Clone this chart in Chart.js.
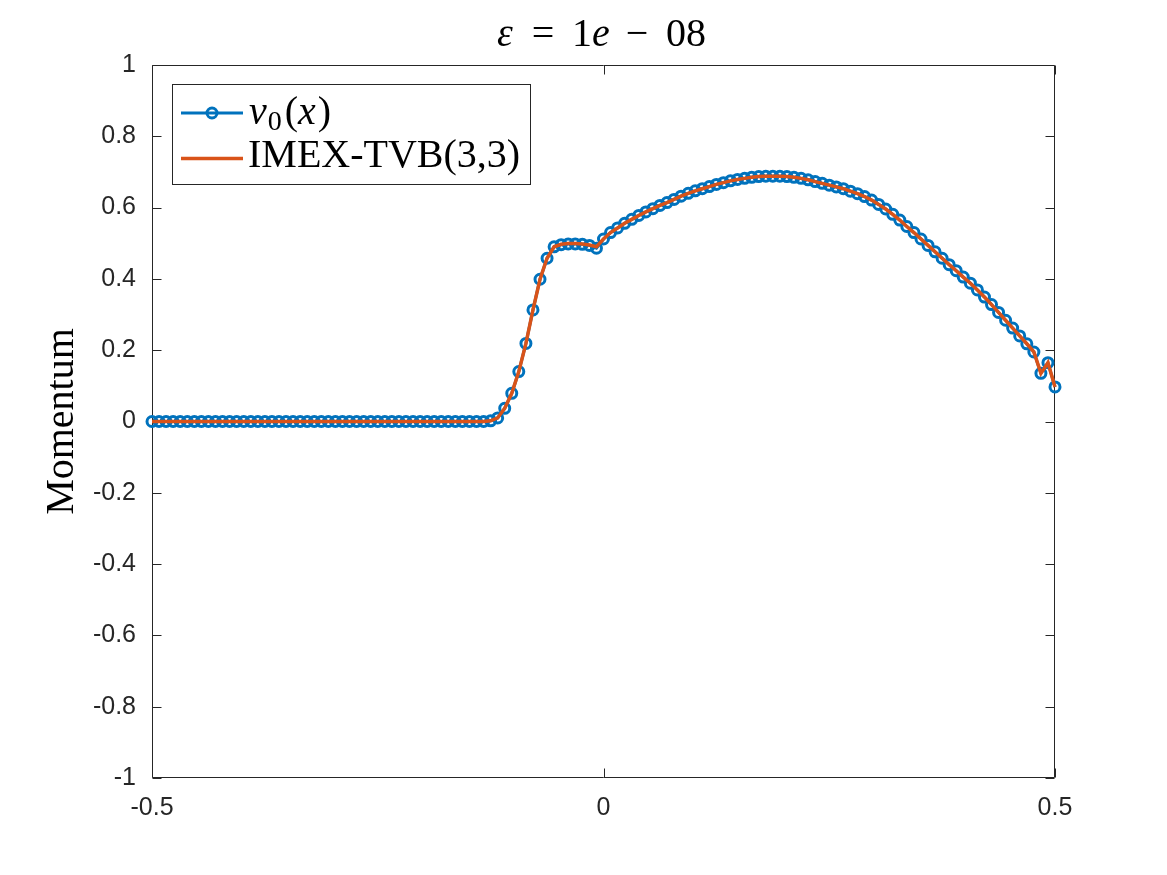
<!DOCTYPE html>
<html><head><meta charset="utf-8">
<script src="https://cdn.jsdelivr.net/npm/chart.js@4.4.0/dist/chart.umd.min.js"></script>
<style>html,body{margin:0;padding:0;background:#fff;}canvas{display:block;}</style>
</head><body>
<canvas id="c" width="1167" height="875"></canvas>
<script>
const xValues = [
-0.5,-0.4922,-0.4844,-0.4766,-0.4688,-0.4609,-0.4531,-0.4453,-0.4375,-0.4297,
-0.4219,-0.4141,-0.4063,-0.3984,-0.3906,-0.3828,-0.375,-0.3672,-0.3594,-0.3516,
-0.3438,-0.3359,-0.3281,-0.3203,-0.3125,-0.3047,-0.2969,-0.2891,-0.2813,-0.2734,
-0.2656,-0.2578,-0.25,-0.2422,-0.2344,-0.2266,-0.2188,-0.2109,-0.2031,-0.1953,
-0.1875,-0.1797,-0.1719,-0.1641,-0.1563,-0.1484,-0.1406,-0.1328,-0.125,-0.1172,
-0.1094,-0.1016,-0.0938,-0.0859,-0.0781,-0.0703,-0.0625,-0.0547,-0.0469,-0.0391,
-0.0313,-0.0234,-0.0156,-0.0078,0,0.0078,0.0156,0.0234,0.0313,0.0391,
0.0469,0.0547,0.0625,0.0703,0.0781,0.0859,0.0938,0.1016,0.1094,0.1172,
0.125,0.1328,0.1406,0.1484,0.1563,0.1641,0.1719,0.1797,0.1875,0.1953,
0.2031,0.2109,0.2188,0.2266,0.2344,0.2422,0.25,0.2578,0.2656,0.2734,
0.2813,0.2891,0.2969,0.3047,0.3125,0.3203,0.3281,0.3359,0.3438,0.3516,
0.3594,0.3672,0.375,0.3828,0.3906,0.3984,0.4063,0.4141,0.4219,0.4297,
0.4375,0.4453,0.4531,0.4609,0.4688,0.4766,0.4844,0.4922,0.5];

const v0Values = [
0,0,0,0,0,0,0,0,0,0,
0,0,0,0,0,0,0,0,0,0,
0,0,0,0,0,0,0,0,0,0,
0,0,0,0,0,0,0,0,0,0,
0,0,0,0,0,0,0,0,0.002,0.010,
0.037,0.079,0.140,0.219,0.313,0.399,0.458,0.490,0.496,0.498,
0.498,0.497,0.494,0.486,0.512,0.530,0.543,0.556,0.567,0.578,
0.588,0.597,0.606,0.614,0.623,0.632,0.640,0.647,0.653,0.659,
0.665,0.670,0.675,0.679,0.682,0.685,0.687,0.688,0.688,0.688,
0.687,0.685,0.682,0.678,0.673,0.668,0.663,0.658,0.653,0.646,
0.639,0.631,0.621,0.609,0.596,0.581,0.565,0.547,0.530,0.512,
0.494,0.476,0.458,0.440,0.423,0.405,0.388,0.369,0.349,0.328,
0.306,0.284,0.262,0.240,0.218,0.195,0.135,0.165,0.097];

const imexValues = [
0,0,0,0,0,0,0,0,0,0,
0,0,0,0,0,0,0,0,0,0,
0,0,0,0,0,0,0,0,0,0,
0,0,0,0,0,0,0,0,0,0,
0,0,0,0,0,0,0,0,0.002,0.010,
0.037,0.079,0.140,0.219,0.313,0.399,0.458,0.490,0.497,0.499,
0.499,0.498,0.495,0.490,0.512,0.530,0.543,0.556,0.567,0.578,
0.588,0.597,0.606,0.614,0.623,0.632,0.640,0.647,0.653,0.659,
0.665,0.670,0.675,0.679,0.682,0.685,0.687,0.688,0.688,0.688,
0.687,0.685,0.682,0.678,0.673,0.668,0.663,0.658,0.653,0.646,
0.639,0.631,0.621,0.609,0.596,0.581,0.565,0.547,0.530,0.512,
0.494,0.476,0.458,0.440,0.423,0.405,0.388,0.369,0.349,0.328,
0.306,0.284,0.262,0.240,0.218,0.195,0.135,0.165,0.097];

const xTickValues = [-0.5, 0, 0.5];
const yTickValues = [-1, -0.8, -0.6, -0.4, -0.2, 0, 0.2, 0.4, 0.6, 0.8, 1];
const seriesNames = ['v0(x)', 'IMEX-TVB(3,3)'];
const yAxisLabel = 'Momentum';

const BLUE = '#0072BD', ORANGE = '#D95319', AX = '#262626';
const SERIF = '"Liberation Serif", "DejaVu Serif", serif';
const SANS = '"Liberation Sans", Arial, sans-serif';

function toPoints(xs, ys) { return xs.map((x, i) => ({x: x, y: ys[i]})); }

function drawRuns(ctx, runs, x, y, align) {
  let total = 0;
  runs.forEach(r => {
    if (r.gap !== undefined) { r.w = r.gap; }
    else { ctx.font = r.font; r.w = ctx.measureText(r.t).width; }
    total += r.w;
  });
  let cx = align === 'center' ? x - total / 2 : x;
  ctx.textBaseline = 'alphabetic';
  ctx.textAlign = 'left';
  runs.forEach(r => {
    if (r.t !== undefined) { ctx.font = r.font; ctx.fillText(r.t, cx, y + (r.dy || 0)); }
    cx += r.w;
  });
}

const framePlugin = {
  id: 'frame',
  beforeDatasetsDraw(chart) {
    const ctx = chart.ctx, a = chart.chartArea;
    const xs = chart.scales.x, ys = chart.scales.y;
    ctx.save();
    ctx.strokeStyle = AX; ctx.lineWidth = 1;
    const L = Math.round(a.left) + 0.5, R = Math.round(a.right) - 0.5;
    const T = Math.round(a.top) + 0.5, B = Math.round(a.bottom) - 0.5;
    ctx.beginPath();
    ctx.rect(L, T, R - L, B - T);
    yTickValues.forEach(v => {
      const p = Math.round(ys.getPixelForValue(v)) + 0.5;
      ctx.moveTo(L, p); ctx.lineTo(L + 9, p);
      ctx.moveTo(R, p); ctx.lineTo(R - 9, p);
    });
    xTickValues.forEach(v => {
      const p = Math.round(xs.getPixelForValue(v)) + 0.5;
      ctx.moveTo(p, B); ctx.lineTo(p, B - 9);
      ctx.moveTo(p, T); ctx.lineTo(p, T + 9);
    });
    ctx.stroke();
    ctx.restore();
  },
  afterDraw(chart) {
    const ctx = chart.ctx, a = chart.chartArea;
    ctx.save();
    ctx.fillStyle = '#000';
    // title with LaTeX-like math spacing
    const fs = 40;
    const up = fs + 'px ' + SERIF, it = 'italic ' + fs + 'px ' + SERIF;
    ctx.textBaseline = 'alphabetic';
    ctx.textAlign = 'center';
    ctx.font = it; ctx.fillText('ε', 505, 46);
    ctx.font = up; ctx.fillText('=', 543, 46);
    drawRuns(ctx, [{t: '1', font: up}, {t: 'e', font: it}], 572, 46, 'left');
    ctx.textAlign = 'center';
    ctx.font = up; ctx.fillText('−', 637, 46);
    ctx.fillText('08', 686, 46);
    // y label
    ctx.save();
    ctx.translate(73, (a.top + a.bottom) / 2);
    ctx.rotate(-Math.PI / 2);
    ctx.font = '40px ' + SERIF;
    ctx.textAlign = 'center';
    ctx.textBaseline = 'alphabetic';
    ctx.fillText(yAxisLabel, 0, 0);
    ctx.restore();
    // legend
    const bx = 172.5, by = 84.5, bw = 358, bh = 100;
    ctx.fillStyle = '#fff';
    ctx.fillRect(bx, by, bw, bh);
    ctx.strokeStyle = AX; ctx.lineWidth = 1;
    ctx.strokeRect(bx, by, bw, bh);
    const r1 = 113, r2 = 158.5;
    ctx.lineCap = 'butt';
    ctx.strokeStyle = BLUE; ctx.lineWidth = 3;
    ctx.beginPath(); ctx.moveTo(181, r1); ctx.lineTo(243, r1); ctx.stroke();
    ctx.lineWidth = 3;
    ctx.beginPath(); ctx.arc(212, r1, 5, 0, Math.PI * 2); ctx.stroke();
    ctx.strokeStyle = ORANGE; ctx.lineWidth = 3.5;
    ctx.beginPath(); ctx.moveTo(181, r2); ctx.lineTo(243, r2); ctx.stroke();
    ctx.fillStyle = '#000';
    const lf = 40;
    const lup = lf + 'px ' + SERIF, lit = 'italic ' + lf + 'px ' + SERIF;
    const sub = Math.round(lf * 0.7) + 'px ' + SERIF;
    drawRuns(ctx, [
      {t: 'v', font: lit}, {gap: 1}, {t: '0', font: sub, dy: 6}, {gap: 3}, {t: '(', font: lup},
      {t: 'x', font: lit}, {gap: 2}, {t: ')', font: lup}
    ], 249, 124, 'left');
    drawRuns(ctx, [{t: seriesNames[1], font: lup}], 248, 167, 'left');
    ctx.restore();
  }
};

const tickFont = {family: SANS, size: 25};

new Chart(document.getElementById('c'), {
  type: 'line',
  data: {
    datasets: [
      {
        label: seriesNames[0],
        data: toPoints(xValues, v0Values),
        borderColor: BLUE, borderWidth: 3,
        pointRadius: 5, pointBorderWidth: 3,
        pointBorderColor: BLUE, pointBackgroundColor: 'rgba(0,0,0,0)',
        pointStyle: 'circle', tension: 0, clip: false, order: 2, fill: false
      },
      {
        label: seriesNames[1],
        data: toPoints(xValues, imexValues),
        borderColor: ORANGE, borderWidth: 3.5,
        pointRadius: 0, tension: 0, clip: false, order: 1, fill: false
      }
    ]
  },
  options: {
    responsive: false, animation: false, devicePixelRatio: 1,
    layout: {padding: {top: 65, right: 112, bottom: 0, left: 0}},
    plugins: {legend: {display: false}, title: {display: false}, tooltip: {enabled: false}},
    events: [],
    scales: {
      x: {
        type: 'linear', min: -0.5, max: 0.5,
        afterBuildTicks: s => { s.ticks = xTickValues.map(v => ({value: v})); },
        afterFit: s => { s.height = 97; },
        grid: {display: false, drawTicks: false},
        border: {display: false},
        ticks: {font: tickFont, color: AX, padding: 15, maxRotation: 0, autoSkip: false,
                callback: v => String(v)}
      },
      y: {
        type: 'linear', min: -1, max: 1,
        afterBuildTicks: s => { s.ticks = yTickValues.map(v => ({value: v})); },
        afterFit: s => { s.width = 152; },
        grid: {display: false, drawTicks: false},
        border: {display: false},
        ticks: {font: tickFont, color: AX, padding: 16, autoSkip: false,
                callback: v => String(v)}
      }
    }
  },
  plugins: [framePlugin]
});
</script>
</body></html>
